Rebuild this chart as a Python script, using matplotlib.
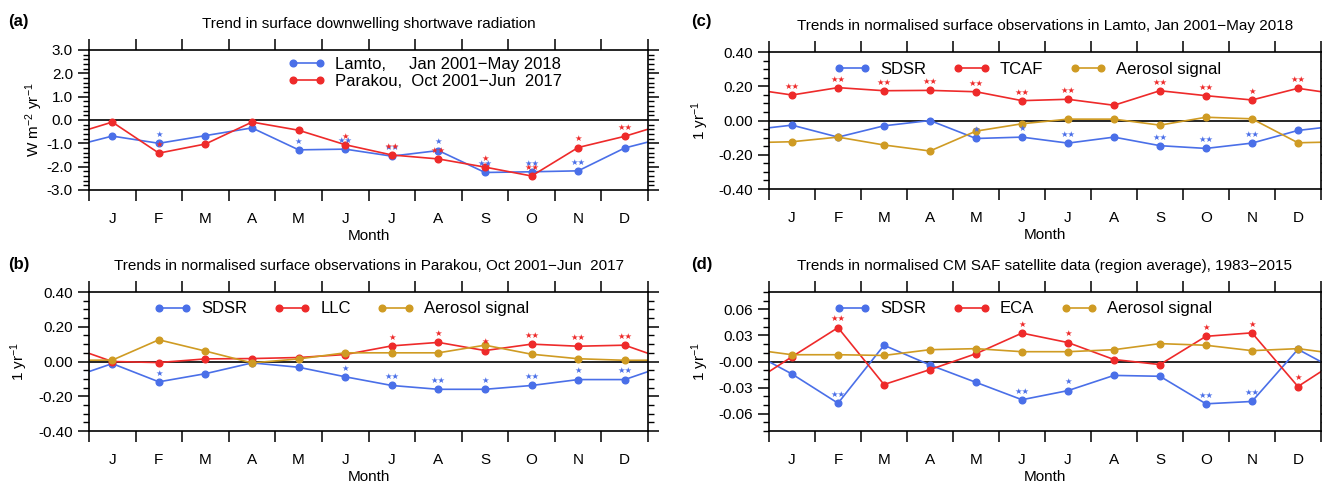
import numpy as np
import matplotlib
matplotlib.use("Agg")
import matplotlib.pyplot as plt
from matplotlib.ticker import MultipleLocator

plt.rcParams['font.family'] = ['Liberation Sans', 'DejaVu Sans']
plt.rcParams['axes.unicode_minus'] = False
plt.rcParams['mathtext.default'] = 'regular'

months = ['J', 'F', 'M', 'A', 'M', 'J', 'J', 'A', 'S', 'O', 'N', 'D']

# (a) SDSR trends, W m-2 yr-1
a_lamto = [-0.69, -1.00, -0.67, -0.34, -1.28, -1.25, -1.55, -1.31, -2.25, -2.22, -2.18, -1.20]
a_parakou = [-0.09, -1.42, -1.03, -0.09, -0.44, -1.06, -1.50, -1.67, -2.02, -2.40, -1.18, -0.70]
a_lamto_sig = ['', '*', '', '', '*', '**', '**', '*', '**', '**', '**', '']
a_parakou_sig = ['', '*', '', '', '', '*', '**', '**', '*', '**', '*', '**']

# (b) Parakou normalised trends
b_sdsr = [-0.012, -0.117, -0.070, -0.008, -0.033, -0.088, -0.138, -0.160, -0.160, -0.138, -0.104, -0.104]
b_llc = [0.000, -0.006, 0.015, 0.017, 0.023, 0.040, 0.090, 0.110, 0.063, 0.100, 0.088, 0.094]
b_aer = [0.008, 0.125, 0.060, -0.008, 0.015, 0.050, 0.050, 0.050, 0.094, 0.042, 0.016, 0.007]
b_sdsr_sig = ['', '*', '', '', '', '*', '**', '**', '*', '**', '*', '**']
b_llc_sig = ['', '', '', '', '', '', '*', '*', '*', '**', '**', '**']

# (c) Lamto normalised trends
c_sdsr = [-0.027, -0.097, -0.031, 0.000, -0.105, -0.097, -0.132, -0.097, -0.147, -0.163, -0.132, -0.058]
c_tcaf = [0.149, 0.192, 0.174, 0.176, 0.168, 0.116, 0.124, 0.089, 0.174, 0.145, 0.120, 0.188]
c_aer = [-0.124, -0.097, -0.143, -0.178, -0.062, -0.019, 0.008, 0.008, -0.027, 0.019, 0.010, -0.130]
c_sdsr_sig = ['', '', '', '', '*', '*', '**', '', '**', '**', '**', '']
c_tcaf_sig = ['**', '**', '**', '**', '**', '**', '**', '', '**', '**', '*', '**']

# (d) CM SAF satellite trends
d_sdsr = [-0.0144, -0.048, 0.0187, -0.004, -0.024, -0.044, -0.0335, -0.016, -0.017, -0.0487, -0.046, 0.014]
d_eca = [0.0055, 0.039, -0.0265, -0.0093, 0.009, 0.0327, 0.0218, 0.0023, -0.0035, 0.029, 0.033, -0.0288]
d_aer = [0.0078, 0.0078, 0.007, 0.0136, 0.0148, 0.0113, 0.0113, 0.0136, 0.0206, 0.0187, 0.0125, 0.0148]
d_sdsr_sig = ['', '**', '', '', '', '**', '*', '', '', '**', '**', '']
d_eca_sig = ['', '**', '', '', '', '*', '*', '', '', '*', '*', '*']

BLUE = '#4a6fe8'
RED = '#ee2a2a'
GOLD = '#cf9b23'


def plot_series(ax, vals, color, label, sig=None):
    # wrap around the year so the line runs to both edges
    x = np.arange(-0.5, 13.0, 1.0)
    y = [vals[-1]] + list(vals) + [vals[0]]
    ax.plot(x, y, color=color, lw=1.2, marker='o', ms=4.8,
            markevery=list(range(1, 13)), label=label)
    if sig:
        for i, s in enumerate(sig):
            if s:
                ax.annotate('\u2605' * len(s), (i + 0.5, vals[i]), xytext=(0, 3),
                            textcoords='offset points', ha='center', va='bottom',
                            color=color, fontsize=6, family='DejaVu Sans')


def style_axes(ax, ylim, major, minor, fmt, title, ylabel, ylabelpad, zero_lbl=None):
    ax.set_xlim(0, 12)
    ax.set_ylim(*ylim)
    ax.axhline(0, color='black', lw=1.2, zorder=1)
    ax.set_xticks(np.arange(0, 13))
    ax.set_xticks(np.arange(0.5, 12), minor=True)
    ax.set_xticklabels([''] * 13)
    ax.set_xticklabels(months, minor=True)
    ax.tick_params(axis='x', which='major', direction='out', length=8, width=1.1,
                   top=True, bottom=True)
    ax.tick_params(axis='x', which='minor', length=0, pad=16, labelsize=11)
    ax.yaxis.set_major_locator(MultipleLocator(major))
    ax.yaxis.set_minor_locator(MultipleLocator(minor))
    ax.tick_params(axis='y', which='major', direction='out', length=8, width=1.1,
                   left=True, right=True, labelsize=11)
    ax.tick_params(axis='y', which='minor', direction='out', length=4, width=1.0,
                   left=True, right=True)

    def f(v, pos):
        if abs(v) < 1e-9 and zero_lbl is not None:
            return zero_lbl
        return fmt % v
    ax.yaxis.set_major_formatter(plt.FuncFormatter(f))
    for sp in ax.spines.values():
        sp.set_linewidth(1.2)
    ax.set_title(title, fontsize=11, pad=16)
    ax.set_xlabel('Month', fontsize=11, labelpad=2)
    ax.set_ylabel(ylabel, fontsize=11, labelpad=ylabelpad)


fig = plt.figure(figsize=(13.22, 4.88), dpi=100)

ax_a = fig.add_axes([0.0673, 0.6107, 0.4229, 0.2869])
ax_b = fig.add_axes([0.0673, 0.1168, 0.4229, 0.2848])
ax_c = fig.add_axes([0.5817, 0.6127, 0.4175, 0.2807])
ax_d = fig.add_axes([0.5817, 0.1168, 0.4175, 0.2848])

# (a)
plot_series(ax_a, a_lamto, BLUE, 'Lamto,     Jan 2001\u2212May 2018', a_lamto_sig)
plot_series(ax_a, a_parakou, RED, 'Parakou,  Oct 2001\u2212Jun  2017', a_parakou_sig)
style_axes(ax_a, (-3.0, 3.0), 1.0, 0.2, '%.1f',
           'Trend in surface downwelling shortwave radiation',
           'W m$^{-2}$ yr$^{-1}$', 1)
ax_a.legend(loc='upper left', bbox_to_anchor=(0.33, 1.06), frameon=False,
            fontsize=12, numpoints=2, handlelength=2.2, handletextpad=0.6,
            labelspacing=0.15)

# (b)
plot_series(ax_b, b_sdsr, BLUE, 'SDSR', b_sdsr_sig)
plot_series(ax_b, b_llc, RED, 'LLC', b_llc_sig)
plot_series(ax_b, b_aer, GOLD, 'Aerosol signal')
style_axes(ax_b, (-0.4, 0.4), 0.2, 0.05, '%.2f',
           'Trends in normalised surface observations in Parakou, Oct 2001\u2212Jun  2017',
           '1 yr$^{-1}$', 6)

# (c)
plot_series(ax_c, c_sdsr, BLUE, 'SDSR', c_sdsr_sig)
plot_series(ax_c, c_tcaf, RED, 'TCAF', c_tcaf_sig)
plot_series(ax_c, c_aer, GOLD, 'Aerosol signal')
style_axes(ax_c, (-0.4, 0.4), 0.2, 0.05, '%.2f',
           'Trends in normalised surface observations in Lamto, Jan 2001\u2212May 2018',
           '1 yr$^{-1}$', 5)

# (d)
plot_series(ax_d, d_sdsr, BLUE, 'SDSR', d_sdsr_sig)
plot_series(ax_d, d_eca, RED, 'ECA', d_eca_sig)
plot_series(ax_d, d_aer, GOLD, 'Aerosol signal')
style_axes(ax_d, (-0.08, 0.08), 0.03, 0.01, '%.2f',
           'Trends in normalised CM SAF satellite data (region average), 1983\u22122015',
           '1 yr$^{-1}$', 5, zero_lbl='-0.00')

for ax in (ax_b, ax_c, ax_d):
    ax.legend(loc='upper left', bbox_to_anchor=(0.09, 1.04), frameon=False,
              fontsize=12, numpoints=2, ncol=3, handlelength=2.2,
              handletextpad=0.6, columnspacing=1.6)

# panel tags
for tag, x, y in (('(a)', 0.006, 0.955), ('(b)', 0.006, 0.457),
                  ('(c)', 0.523, 0.955), ('(d)', 0.523, 0.457)):
    fig.text(x, y, tag, fontsize=12, fontweight='bold', va='center', ha='left')

fig.savefig('out.png', dpi=100)
